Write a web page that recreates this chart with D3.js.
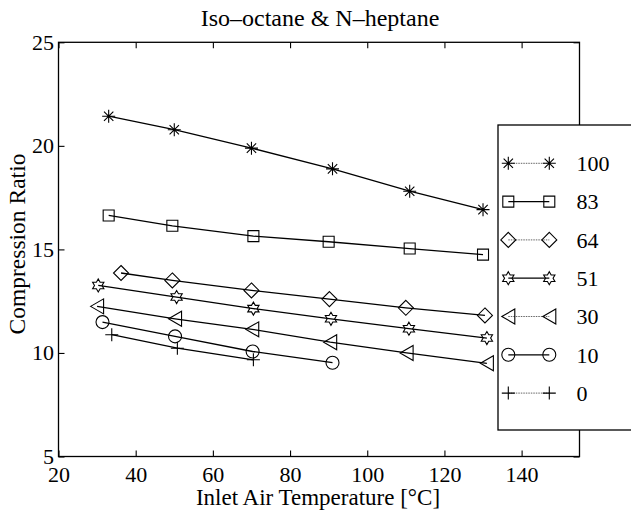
<!DOCTYPE html>
<html>
<head>
<meta charset="utf-8">
<script src="https://cdn.jsdelivr.net/npm/d3@7"></script>
<style>
  body { margin: 0; background: #fff; }
  text { font-family: "Liberation Serif", "Times New Roman", serif; fill: #000; }
</style>
</head>
<body>
<div id="chart"></div>
<script>
// data
var seriesNames = ["100", "83", "64", "51", "30", "10", "0"];
var markerTypes = ["asterisk", "square", "diamond", "hexagram", "triangle", "circle", "plus"];

var temp100 = [33, 50, 70, 91, 111, 130];
var cr100   = [21.43, 20.78, 19.89, 18.89, 17.81, 16.92];
var temp83  = [33, 49.5, 70.5, 90, 111, 130];
var cr83    = [16.64, 16.14, 15.64, 15.37, 15.04, 14.75];
var temp64  = [36.2, 49.5, 70, 90.2, 110, 130.5];
var cr64    = [13.86, 13.5, 13.02, 12.6, 12.18, 11.81];
var temp51  = [30.3, 50.6, 70.5, 90.6, 110.8, 131];
var cr51    = [13.26, 12.7, 12.14, 11.65, 11.17, 10.72];
var temp30  = [30, 50.2, 70.2, 90.4, 110.2, 131];
var cr30    = [12.25, 11.65, 11.14, 10.52, 10.0, 9.5];
var temp10  = [31.4, 50.2, 70.3, 91];
var cr10    = [11.49, 10.8, 10.07, 9.53];
var temp0   = [33.8, 50.8, 70.5];
var cr0     = [10.88, 10.23, 9.67];

var xTicks = [20, 40, 60, 80, 100, 120, 140];
var yTicks = [5, 10, 15, 20, 25];

var temps = [temp100, temp83, temp64, temp51, temp30, temp10, temp0];
var ratios = [cr100, cr83, cr64, cr51, cr30, cr10, cr0];

// chart dimensions (plot box)
var width = 631, height = 512;
var plotLeft = 58.5, plotRight = 579.5, plotTop = 42.3, plotBottom = 456.5;

var x = d3.scaleLinear().domain([20, 155]).range([plotLeft, plotRight]);
var y = d3.scaleLinear().domain([5, 25]).range([plotBottom, plotTop]);

var svg = d3.select('#chart').append('svg')
  .attr('width', width)
  .attr('height', height);

// marker shapes (matlab style, unfilled)
function markerPath(type) {
  var p = d3.path();
  if (type === 'asterisk') {
    var r = 6.5, d = r * 0.72;
    p.moveTo(-r, 0); p.lineTo(r, 0);
    p.moveTo(0, -r); p.lineTo(0, r);
    p.moveTo(-d, -d); p.lineTo(d, d);
    p.moveTo(-d, d); p.lineTo(d, -d);
  } else if (type === 'square') {
    p.rect(-5.5, -5.5, 11, 11);
  } else if (type === 'diamond') {
    p.moveTo(0, -7.5); p.lineTo(7.5, 0); p.lineTo(0, 7.5); p.lineTo(-7.5, 0); p.closePath();
  } else if (type === 'hexagram') {
    // star of david outline, 12 vertices
    var R = 6.5, ri = R / Math.sqrt(3);
    for (var j = 0; j < 12; j++) {
      var a = -Math.PI / 2 + j * Math.PI / 6;
      var rr = j % 2 === 0 ? R : ri;
      if (j === 0) p.moveTo(rr * Math.cos(a), rr * Math.sin(a));
      else p.lineTo(rr * Math.cos(a), rr * Math.sin(a));
    }
    p.closePath();
  } else if (type === 'triangle') {
    p.moveTo(-6.5, 0); p.lineTo(6.5, -7.5); p.lineTo(6.5, 7.5); p.closePath();
  } else if (type === 'circle') {
    p.moveTo(6.5, 0); p.arc(0, 0, 6.5, 0, 2 * Math.PI);
  } else if (type === 'plus') {
    p.moveTo(-6.5, 0); p.lineTo(6.5, 0);
    p.moveTo(0, -6.5); p.lineTo(0, 6.5);
  }
  return p.toString();
}

// axes, ticks pointing inward
svg.append('g')
  .attr('transform', 'translate(0,' + plotBottom + ')')
  .call(d3.axisBottom(x).tickValues(xTicks).tickSize(-6).tickPadding(10));
svg.append('g')
  .attr('transform', 'translate(' + plotLeft + ',0)')
  .call(d3.axisLeft(y).tickValues(yTicks).tickSize(-6).tickPadding(4.5));
svg.append('g')
  .attr('transform', 'translate(0,' + plotTop + ')')
  .call(d3.axisTop(x).tickValues(xTicks).tickSize(-6).tickFormat(''));
svg.append('g')
  .attr('transform', 'translate(' + plotRight + ',0)')
  .call(d3.axisRight(y).tickValues(yTicks).tickSize(-6).tickFormat(''));

svg.selectAll('.domain').remove();
svg.selectAll('.tick line').attr('stroke', '#000').attr('stroke-width', 1.1);
svg.selectAll('.tick text').style('font-size', '22px').style('font-family', '"Liberation Serif", serif');

svg.append('rect')
  .attr('x', plotLeft).attr('y', plotTop)
  .attr('width', plotRight - plotLeft).attr('height', plotBottom - plotTop)
  .attr('fill', 'none').attr('stroke', '#000').attr('stroke-width', 1.3);

// lines and markers
var line = d3.line()
  .x(function(d) { return x(d[0]); })
  .y(function(d) { return y(d[1]); });

seriesNames.forEach(function(name, i) {
  var pts = temps[i].map(function(t, j) { return [t, ratios[i][j]]; });
  svg.append('path')
    .attr('d', line(pts))
    .attr('fill', 'none')
    .attr('stroke', '#000')
    .attr('stroke-width', 1.3);
  svg.selectAll('.m' + i)
    .data(pts)
    .enter()
    .append('path')
    .attr('class', 'm' + i)
    .attr('transform', function(d) { return 'translate(' + x(d[0]) + ',' + y(d[1]) + ')'; })
    .attr('d', markerPath(markerTypes[i]))
    .attr('fill', 'none')
    .attr('stroke', '#000')
    .attr('stroke-width', 1.1);
});

// legend
var legendX = 498, legendY = 125, legendH = 305;
var legendTop = 163.3, legendStep = 38.3;
var lx1 = 508.3, lx2 = 549.3;

svg.append('rect')
  .attr('x', legendX).attr('y', legendY)
  .attr('width', 160).attr('height', legendH)
  .attr('fill', '#fff').attr('stroke', '#000').attr('stroke-width', 1.3);

var legend = svg.selectAll('.legend')
  .data(seriesNames)
  .enter()
  .append('g')
  .attr('class', 'legend')
  .attr('transform', function(d, i) { return 'translate(0,' + (legendTop + i * legendStep) + ')'; });

legend.append('line')
  .attr('x1', lx1).attr('x2', lx2)
  .attr('stroke', function(d, i) { return i % 2 === 0 ? '#555' : '#000'; })
  .attr('stroke-width', function(d, i) { return i % 2 === 0 ? 0.9 : 1.2; })
  .attr('stroke-dasharray', function(d, i) { return i % 2 === 0 ? '1.5,1' : null; });

[lx1, lx2].forEach(function(px) {
  legend.append('path')
    .attr('transform', 'translate(' + px + ',0)')
    .attr('d', function(d, i) { return markerPath(markerTypes[i]); })
    .attr('fill', 'none')
    .attr('stroke', '#000')
    .attr('stroke-width', 1.1);
});

legend.append('text')
  .attr('x', 576.5)
  .attr('dy', '0.35em')
  .style('font-size', '22px')
  .text(function(d) { return d; });

// titles
svg.append('text')
  .attr('x', 320).attr('y', 26)
  .attr('text-anchor', 'middle')
  .style('font-size', '24px')
  .text('Iso\u2013octane & N\u2013heptane');

svg.append('text')
  .attr('x', 318).attr('y', 505)
  .attr('text-anchor', 'middle')
  .style('font-size', '23px')
  .text('Inlet Air Temperature [\u00B0C]');

svg.append('text')
  .attr('transform', 'translate(25,244) rotate(-90)')
  .attr('text-anchor', 'middle')
  .style('font-size', '23.5px')
  .text('Compression Ratio');
</script>
</body>
</html>
